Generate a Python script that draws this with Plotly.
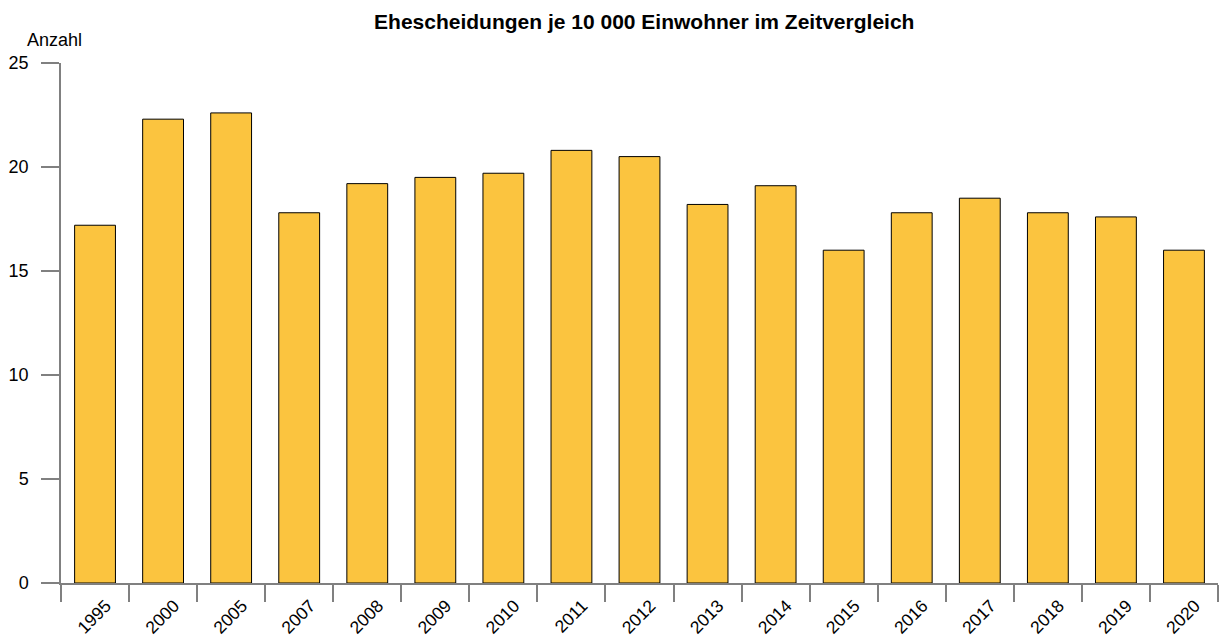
import plotly.graph_objects as go

years = ["1995", "2000", "2005", "2007", "2008", "2009", "2010", "2011", "2012",
         "2013", "2014", "2015", "2016", "2017", "2018", "2019", "2020"]
values = [17.2, 22.3, 22.6, 17.8, 19.2, 19.5, 19.7, 20.8, 20.5,
          18.2, 19.1, 16.0, 17.8, 18.5, 17.8, 17.6, 16.0]
y_ticks = [0, 5, 10, 15, 20, 25]

fig = go.Figure(go.Bar(
    x=years, y=values,
    marker=dict(color="#FBC43F", line=dict(color="#000000", width=1)),
    width=0.6,
))

fig.update_layout(
    width=1219, height=642,
    margin=dict(l=61, r=1, t=63, b=59),
    paper_bgcolor="white", plot_bgcolor="white",
    font=dict(family="Liberation Sans, Arial, sans-serif", size=18, color="#000000"),
    title=dict(text="<b>Ehescheidungen je 10 000 Einwohner im Zeitvergleich</b>",
               x=0.5285, xanchor="center", y=0.967, yanchor="middle",
               font=dict(size=21)),
    showlegend=False,
)
fig.update_xaxes(
    type="category", showline=True, linecolor="#808080", linewidth=1.5,
    ticks="outside", tickson="boundaries", ticklen=17, tickcolor="#808080", tickwidth=1.5,
    tickangle=-45, showgrid=False, range=[-0.5, 16.5], automargin=False,
    ticklabelshift=11, ticklabelstandoff=4, tickfont=dict(size=17.5),
)
fig.update_yaxes(
    range=[0, 25], tickvals=y_ticks, showline=True, linecolor="#808080", linewidth=1.5,
    ticks="outside", ticklen=18, tickcolor="#808080", tickwidth=1.5,
    showgrid=False, zeroline=False, ticklabelstandoff=9, automargin=False,
)
fig.add_annotation(text="Anzahl", xref="paper", yref="paper", x=-0.0311, y=1.0,
                   xanchor="left", yanchor="middle", yshift=23, showarrow=False,
                   font=dict(size=18))

fig.write_html(
    "out.html",
    config={"displayModeBar": False},
    post_script="document.body.style.margin='0';document.body.style.overflow='hidden';",
)
